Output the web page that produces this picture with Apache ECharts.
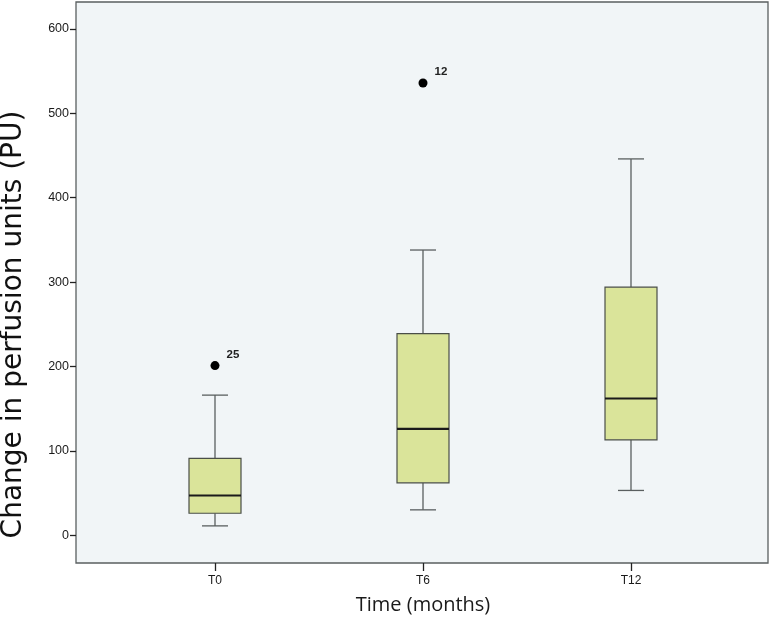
<!DOCTYPE html>
<html>
<head>
<meta charset="utf-8">
<script src="https://cdn.jsdelivr.net/npm/echarts@6/dist/echarts.min.js"></script>
<style>
  html, body { margin: 0; padding: 0; background: #fff; }
  #main { width: 771px; height: 617px; }
</style>
</head>
<body>
<div id="main"></div>
<script>
// categories and box statistics: [low, Q1, median, Q3, high]
var categories = ["T0", "T6", "T12"];
var boxStats = [
    [11, 26, 47, 91, 166],
    [30, 62, 126, 239, 338],
    [53, 113, 162, 294, 446]
];
// outliers: [category index, value, case label]
var outliers = [
    [0, 201, "25"],
    [1, 536, "12"]
];
var yTicks = [0, 100, 200, 300, 400, 500, 600];

var yMin = -33, yMax = 632;

var myChart = echarts.init(document.getElementById("main"));

function renderBox(params, api) {
    var idx = api.value(0);
    var low = api.coord([idx, api.value(1)]);
    var q1 = api.coord([idx, api.value(2)]);
    var med = api.coord([idx, api.value(3)]);
    var q3 = api.coord([idx, api.value(4)]);
    var high = api.coord([idx, api.value(5)]);
    var band = api.size([1, 0])[0];
    var bw = band * 0.25;
    var cw = band * 0.125;
    var x = low[0];
    var lineStyle = { stroke: "#5a5f60", lineWidth: 1.3 };
    return {
        type: "group",
        children: [
            { type: "line", shape: { x1: x, y1: q3[1], x2: x, y2: high[1] }, style: lineStyle },
            { type: "line", shape: { x1: x, y1: q1[1], x2: x, y2: low[1] }, style: lineStyle },
            { type: "line", shape: { x1: x - cw / 2, y1: high[1], x2: x + cw / 2, y2: high[1] }, style: lineStyle },
            { type: "line", shape: { x1: x - cw / 2, y1: low[1], x2: x + cw / 2, y2: low[1] }, style: lineStyle },
            { type: "rect", shape: { x: x - bw / 2, y: q3[1], width: bw, height: q1[1] - q3[1] },
              style: { fill: "#dae49a", stroke: "#4a4e48", lineWidth: 1.2 } },
            { type: "line", shape: { x1: x - bw / 2, y1: med[1], x2: x + bw / 2, y2: med[1] },
              style: { stroke: "#1a1a1a", lineWidth: 2.2 } }
        ]
    };
}

var boxData = boxStats.map(function (s, i) {
    return [i].concat(s);
});

var option = {
    animation: false,
    backgroundColor: "#ffffff",
    textStyle: { fontFamily: "Liberation Sans, Arial, sans-serif" },
    grid: [
        { left: 76, right: 3, top: 2, bottom: 54, show: true, backgroundColor: "#f1f5f7",
          borderColor: "#5a5f60", borderWidth: 1.3, containLabel: false, outerBoundsMode: "none" },
        { left: 111, width: 624, top: 2, bottom: 54, containLabel: false, outerBoundsMode: "none" }
    ],
    xAxis: [
        { gridIndex: 0, type: "value", min: 0, max: 1, show: false },
        { gridIndex: 1, type: "category", data: categories, boundaryGap: true,
          axisLine: { show: false, onZero: false },
          axisTick: { show: true, alignWithLabel: true, length: 8, lineStyle: { color: "#222", width: 1.3 } },
          axisLabel: { color: "#1a1a1a", fontSize: 12, margin: 12 },
          name: "Time (months)", nameLocation: "middle", nameGap: 32,
          nameTextStyle: { fontSize: 20, color: "#1a1a1a", fontFamily: "Open Sans, Liberation Sans, sans-serif" }
        }
    ],
    yAxis: [
        { gridIndex: 0, type: "value", min: yMin, max: yMax,
          axisLine: { show: false },
          splitLine: { show: false },
          axisTick: { show: true, length: 6, lineStyle: { color: "#222", width: 1.3 },
                      customValues: yTicks },
          axisLabel: { color: "#1a1a1a", fontSize: 12.5, margin: 7, customValues: yTicks },
          name: "Change in perfusion units (PU)", nameLocation: "middle", nameGap: 48,
          nameTextStyle: { fontSize: 28, color: "#111", fontFamily: "DejaVu Sans, Liberation Sans, sans-serif",
                           padding: [0, 84, 0, 0] }
        },
        { gridIndex: 1, type: "value", min: yMin, max: yMax, show: false }
    ],
    series: [
        {
            type: "custom",
            xAxisIndex: 1, yAxisIndex: 1,
            data: boxData,
            renderItem: renderBox,
            encode: { x: 0, y: [1, 2, 3, 4, 5] },
            z: 2
        },
        {
            type: "scatter",
            xAxisIndex: 1, yAxisIndex: 1,
            data: outliers.map(function (o) { return { value: [o[0], o[1]], name: o[2] }; }),
            symbol: "circle",
            symbolSize: 9,
            itemStyle: { color: "#000", opacity: 1 },
            label: {
                show: true,
                formatter: function (p) { return p.name; },
                position: "right",
                offset: [2, -11],
                fontSize: 11.5,
                fontWeight: "bold",
                color: "#222"
            },
            z: 3
        }
    ]
};

myChart.setOption(option);
</script>
</body>
</html>
